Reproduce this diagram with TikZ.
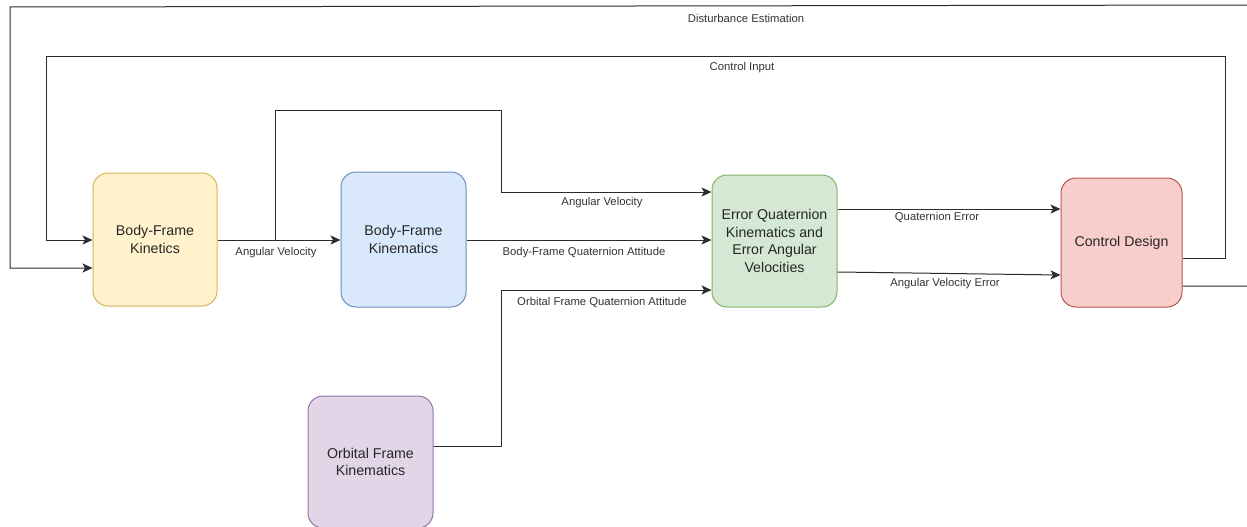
\documentclass[tikz,border=0pt]{standalone}
\usepackage{fontspec}
\setmainfont{Liberation Sans}
\usetikzlibrary{arrows.meta,calc}
\definecolor{yf}{HTML}{FFF2CC}\definecolor{ys}{HTML}{D6B656}
\definecolor{bf}{HTML}{DAE8FC}\definecolor{bs}{HTML}{6C8EBF}
\definecolor{gf}{HTML}{D5E8D4}\definecolor{gs}{HTML}{82B366}
\definecolor{rf}{HTML}{F8CECC}\definecolor{rs}{HTML}{B85450}
\definecolor{pf}{HTML}{E1D5E7}\definecolor{ps}{HTML}{9673A6}
\definecolor{ln}{HTML}{2B2B2B}
\begin{document}
\begin{tikzpicture}[x=1pt,y=-1pt,
  blk/.style={rounded corners=15pt, line width=1pt, align=center, inner sep=0pt,
    font=\fontsize{14.2}{17.6}\selectfont, text=black!85},
  lbl/.style={font=\fontsize{11.3}{13}\selectfont, text=black!80, inner sep=0pt},
  arr/.style={draw=ln, line width=1pt, -{Stealth[length=10pt,width=9pt,inset=2.5pt]}}]
\useasboundingbox (0,0) rectangle (1247,527);
\clip (0,0) rectangle (1247,527);
\node[blk, fill=yf, draw=ys, minimum width=124pt, minimum height=133pt] (kin) at (155,239.5) {Body-Frame\\Kinetics};
\node[blk, fill=bf, draw=bs, minimum width=125pt, minimum height=135pt] (kmt) at (403.5,239.5) {Body-Frame\\Kinematics};
\node[blk, fill=gf, draw=gs, minimum width=125pt, minimum height=132pt] (eq) at (774.5,241) {Error Quaternion\\Kinematics and\\Error Angular\\Velocities};
\node[blk, fill=rf, draw=rs, minimum width=121pt, minimum height=129pt] (cd) at (1121.5,242.5) {Control Design};
\node[blk, fill=pf, draw=ps, minimum width=125pt, minimum height=132pt] (orb) at (370.5,462) {Orbital Frame\\Kinematics};
\coordinate (br) at (275,240);
% connectors
\draw[arr] (kin.east |- 0,240) -- (kmt.west |- 0,240);
\draw[arr] (br) -- (275,110) -- (501,110) -- (501,192) -- (eq.west |- 0,192);
\draw[arr] (kmt.east |- 0,240) -- (eq.west |- 0,240);
\draw[arr] (orb.east |- 0,446) -- (501,446) -- (501,290) -- (eq.west |- 0,290);
\draw[arr] (eq.east |- 0,209) -- (cd.west |- 0,209);
\draw[arr] (eq.east |- 0,272) -- (cd.west |- 0,275);
\draw[arr] (cd.east |- 0,258) -- (1225,258) -- (1225,57) -- (46,57) -- (46,240) -- (kin.west |- 0,240);
\draw[arr] (cd.east |- 0,286) -- (1262,286) -- (1262,5) -- (10,7) -- (10,268) -- (kin.west |- 0,268);
% labels
\node[lbl] (l1) at (746,18) {Disturbance Estimation};
\node[lbl] (l2) at (742,68) {Control Input};
\node[lbl] (l3) at (276,253) {Angular Velocity};
\node[lbl] (l4) at (602,203) {Angular Velocity};
\node[lbl] (l5) at (584,253) {Body-Frame Quaternion Attitude};
\node[lbl] (l6) at (602,302) {Orbital Frame Quaternion Attitude};
\node[lbl] (l7) at (937,217) {Quaternion Error};
\node[lbl] (l8) at (945,284) {Angular Velocity Error};
\end{tikzpicture}
\end{document}
